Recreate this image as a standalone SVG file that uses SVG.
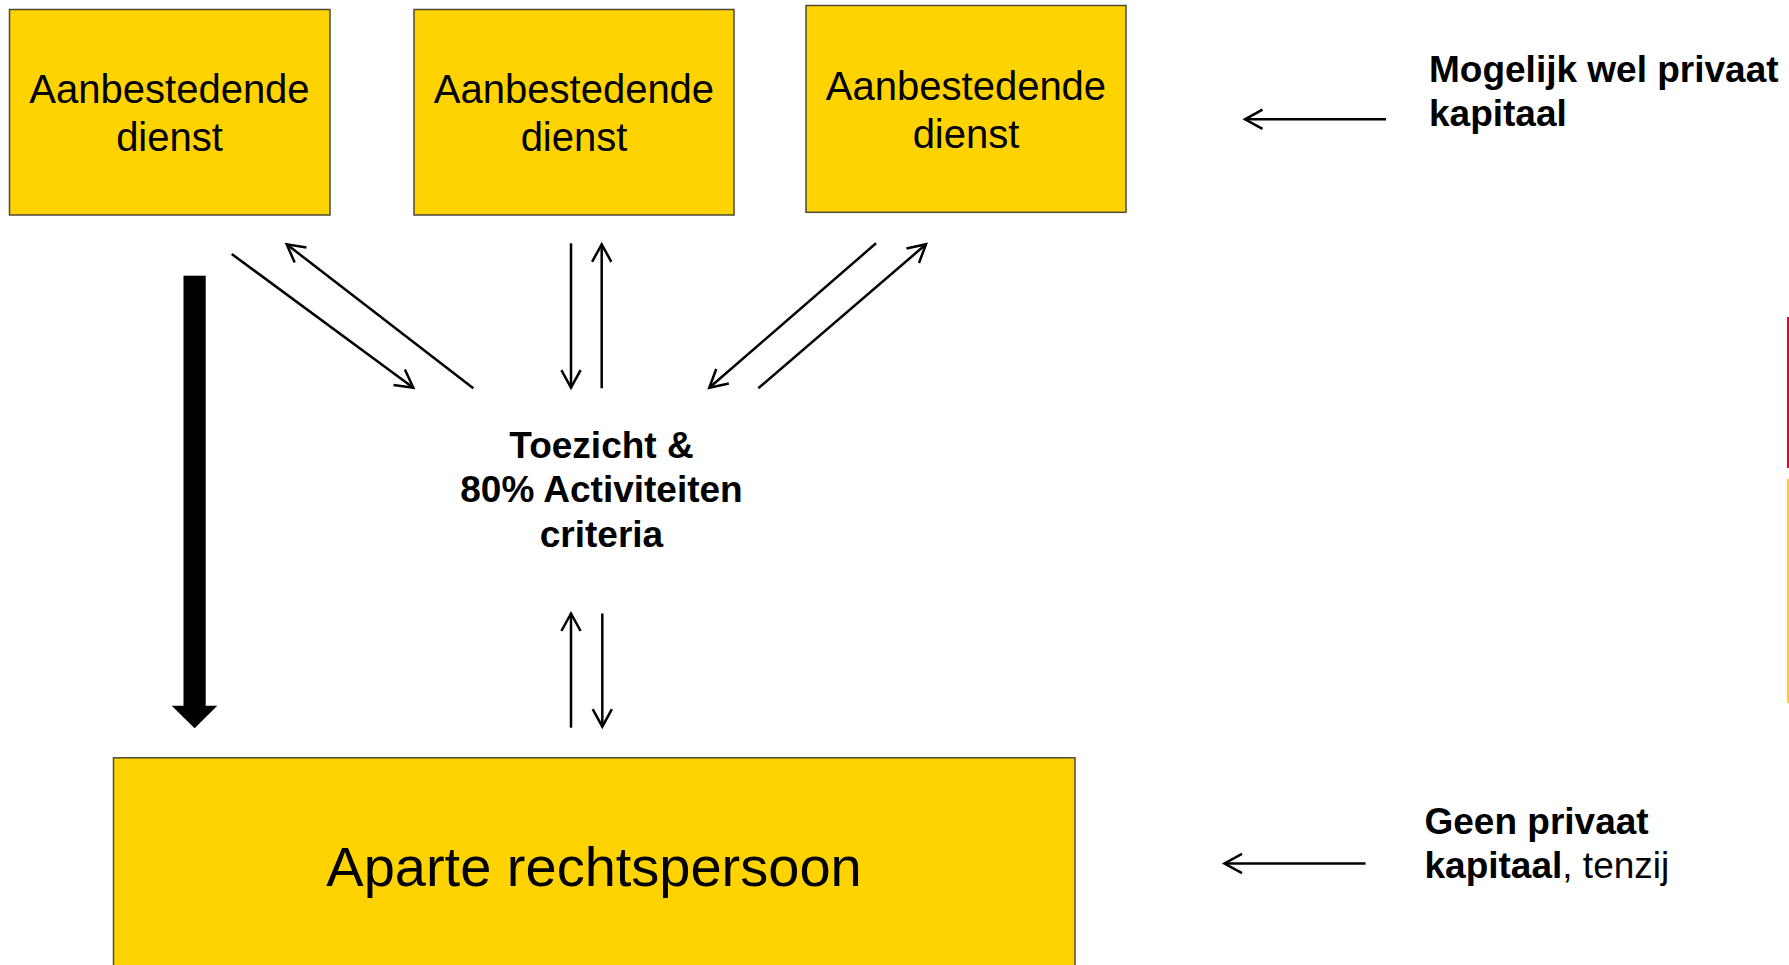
<svg xmlns="http://www.w3.org/2000/svg" width="1789" height="965" viewBox="0 0 1789 965">
  <style>
    .box { fill: #FFD300; stroke: #4d4a3a; stroke-width: 1.5; }
    .boxtext { font-family: "Liberation Sans", Arial, sans-serif; font-size: 40px; fill: #000; text-anchor: middle; }
    .bigtext { font-family: "Liberation Sans", Arial, sans-serif; font-size: 56px; fill: #000; text-anchor: middle; }
    .label { font-family: "Liberation Sans", Arial, sans-serif; font-size: 37px; font-weight: bold; fill: #000; }
    .reg { font-weight: normal; }
    .conn { stroke: #000; stroke-width: 2.5; fill: none; marker-end: url(#open); }
  </style>
  <defs>
    <marker id="open" markerUnits="userSpaceOnUse" markerWidth="44" markerHeight="44" viewBox="-22 -22 44 44" refX="0" refY="0" orient="auto" overflow="visible">
      <path d="M -17.5 -9.6 L 0 0 L -17.5 9.6" fill="none" stroke="#000" stroke-width="2.5" stroke-linecap="butt" stroke-linejoin="miter"/>
    </marker>
  </defs>
  <rect width="1789" height="965" fill="#ffffff"/>

  <g id="dienst1">
    <rect class="box" x="9.5" y="9.5" width="320.5" height="205.5"/>
    <text class="boxtext" x="169.5" y="102.7">Aanbestedende</text>
    <text class="boxtext" x="169.5" y="150.7">dienst</text>
  </g>
  <g id="dienst2">
    <rect class="box" x="414" y="9.5" width="320" height="205.5"/>
    <text class="boxtext" x="574" y="102.7">Aanbestedende</text>
    <text class="boxtext" x="574" y="150.7">dienst</text>
  </g>
  <g id="dienst3">
    <rect class="box" x="806" y="5.5" width="320" height="206.8"/>
    <text class="boxtext" x="966" y="100">Aanbestedende</text>
    <text class="boxtext" x="966" y="148.3">dienst</text>
  </g>

  <g id="toezicht">
    <text class="label" x="601.5" y="458" text-anchor="middle">Toezicht &amp;</text>
    <text class="label" x="601.5" y="502" text-anchor="middle">80% Activiteiten</text>
    <text class="label" x="601.5" y="546.5" text-anchor="middle">criteria</text>
  </g>

  <g id="rechtspersoon">
    <rect class="box" x="113.5" y="757.8" width="961.5" height="240"/>
    <text class="bigtext" x="594" y="886">Aparte rechtspersoon</text>
  </g>

  <g id="label-top">
    <text class="label" x="1429" y="82">Mogelijk wel privaat</text>
    <text class="label" x="1429" y="126">kapitaal</text>
  </g>
  <g id="label-bottom">
    <text class="label" x="1424.5" y="833.5">Geen privaat</text>
    <text class="label" x="1424.5" y="878.3">kapitaal<tspan class="reg">, tenzij</tspan></text>
  </g>

  <g id="connectors">
    <!-- thick arrow -->
    <rect x="183.5" y="275.7" width="22.2" height="430.5" fill="#000"/>
    <polygon points="171.7,705.7 217.3,705.7 194.6,728.3" fill="#000"/>
    <!-- left pair -->
    <line class="conn" x1="231.7" y1="254" x2="413.3" y2="387.7"/>
    <line class="conn" x1="473.3" y1="388.3" x2="286.7" y2="244.3"/>
    <!-- middle pair -->
    <line class="conn" x1="571" y1="243.3" x2="571" y2="387.7"/>
    <line class="conn" x1="601.7" y1="388.3" x2="601.7" y2="244.3"/>
    <!-- right pair -->
    <line class="conn" x1="876" y1="243.3" x2="709.3" y2="387.7"/>
    <line class="conn" x1="758.3" y1="388.3" x2="926" y2="244.3"/>
    <!-- lower pair -->
    <line class="conn" x1="571" y1="727.7" x2="571" y2="613.5"/>
    <line class="conn" x1="602.3" y1="613.5" x2="602.3" y2="726.7"/>
    <!-- right side arrows -->
    <line class="conn" x1="1386" y1="119.3" x2="1245" y2="119.3"/>
    <line class="conn" x1="1365.5" y1="863.5" x2="1224.5" y2="863.5"/>
  </g>

  <rect x="1787" y="317" width="2" height="151" fill="#E4003A"/>
  <rect x="1787" y="479" width="2" height="224" fill="#FFD300"/>
</svg>
